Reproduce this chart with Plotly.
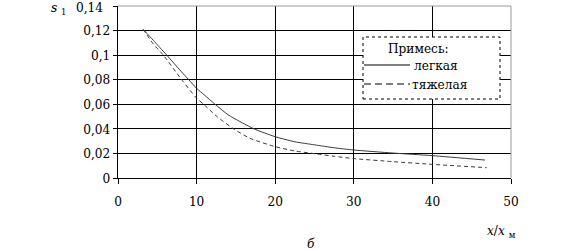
import plotly.graph_objects as go

# ---- data ----
x_light = [3.2, 4.5, 6.2, 8.0, 9.0, 10.0, 11.0, 12.35, 14.0, 15.5, 17.3, 20.0, 22.5, 25.0, 27.5, 30.0, 35.0, 40.0, 46.7]
y_light = [0.121, 0.112, 0.100, 0.087, 0.080, 0.073, 0.0675, 0.060, 0.0515, 0.046, 0.040, 0.0336, 0.0295, 0.027, 0.0246, 0.0228, 0.0203, 0.0182, 0.0146]

x_heavy = [3.2, 4.5, 5.77, 8.1, 10.0, 10.9, 12.5, 14.7, 16.8, 20.0, 22.5, 25.0, 27.5, 30.0, 35.0, 40.0, 46.9]
y_heavy = [0.121, 0.109, 0.100, 0.080, 0.065, 0.060, 0.0505, 0.040, 0.0323, 0.0255, 0.022, 0.0198, 0.0177, 0.0158, 0.0133, 0.0111, 0.0084]

x_ticks = [0, 10, 20, 30, 40, 50]
y_ticks = [0, 0.02, 0.04, 0.06, 0.08, 0.10, 0.12, 0.14]
y_ticktext = ["0", "0,02", "0,04", "0,06", "0,08", "0,1", "0,12", "0,14"]

legend_title = "Примесь:"
name_light = "легкая"
name_heavy = "тяжелая"

# ---- layout geometry (pixels) ----
W, H = 563, 251
L, R, T, B = 118, 52, 6, 73
PW = W - L - R
PH = H - T - B

def px(xp):
    return (xp - L) / PW

def py(yp):
    return (H - B - yp) / PH

FONT = "DejaVu Serif Condensed, DejaVu Serif, serif"
FS = 13.5
LINE_COLOR = "#3a3a3a"

fig = go.Figure()
fig.add_trace(go.Scatter(x=x_light, y=y_light, mode="lines", name=name_light,
                         line=dict(color=LINE_COLOR, width=1, shape="spline", smoothing=0.6)))
fig.add_trace(go.Scatter(x=x_heavy, y=y_heavy, mode="lines", name=name_heavy,
                         line=dict(color=LINE_COLOR, width=1, dash="4px,3px", shape="spline", smoothing=0.6)))

fig.update_layout(
    width=W, height=H,
    margin=dict(l=L, r=R, t=T, b=B),
    paper_bgcolor="white", plot_bgcolor="white",
    showlegend=False,
    font=dict(family=FONT, size=FS, color="black"),
)
fig.update_xaxes(range=[0, 50], tickmode="array", tickvals=x_ticks, showgrid=True, gridcolor="black", gridwidth=1,
                 showline=True, linecolor="black", linewidth=1, zeroline=False,
                 ticks="outside", ticklen=5, tickcolor="black", tickwidth=1, ticklabelstandoff=6,
                 tickfont=dict(family=FONT, size=FS, color="black"))
# the top tick label is drawn as an annotation (plotly hides it at the figure edge)
fig.update_yaxes(range=[0, 0.14], tickmode="array", tickvals=y_ticks,
                 ticktext=y_ticktext[:-1] + [""], showgrid=True,
                 gridcolor="black", gridwidth=1, showline=True, linecolor="black", linewidth=1,
                 zeroline=False, ticks="outside", ticklen=4, tickcolor="black", tickwidth=1,
                 tickfont=dict(family=FONT, size=FS, color="black"), automargin=False)

shapes = [
    dict(type="line", xref="paper", yref="paper", x0=0, x1=1, y0=1, y1=1, line=dict(color="#9a9a9a", width=1), layer="above"),
    dict(type="line", xref="paper", yref="paper", x0=1, x1=1, y0=0, y1=1, line=dict(color="#9a9a9a", width=1), layer="above"),
    dict(type="rect", xref="paper", yref="paper", x0=px(363), x1=px(500), y0=py(99), y1=py(37),
         fillcolor="white", line=dict(color="black", width=1, dash="dot"), layer="above"),
    dict(type="line", xref="paper", yref="paper", x0=px(364), x1=px(410), y0=py(65), y1=py(65),
         line=dict(color="black", width=1), layer="above"),
    dict(type="line", xref="paper", yref="paper", x0=px(364), x1=px(410), y0=py(84), y1=py(84),
         line=dict(color="black", width=1, dash="7px,4px"), layer="above"),
]
fig.update_layout(shapes=shapes)

ann = [
    dict(text=y_ticktext[-1], x=px(105), y=py(7), xanchor="right", yanchor="middle"),
    dict(text=legend_title, x=px(418), y=py(48), xanchor="center", yanchor="middle"),
    dict(text=name_light, x=px(412), y=py(65), xanchor="left", yanchor="middle"),
    dict(text=name_heavy, x=px(410), y=py(84), xanchor="left", yanchor="middle"),
    dict(text="<i>s</i> <sub>1</sub>", x=px(49), y=py(8), xanchor="left", yanchor="middle"),
    dict(text="<i>x</i>/<i>x</i> <sub>м</sub>", x=px(485), y=py(231), xanchor="left", yanchor="middle"),
    dict(text="<i>б</i>", x=px(311), y=py(243), xanchor="center", yanchor="middle"),
]
for a in ann:
    a.update(xref="paper", yref="paper", showarrow=False, font=dict(family=FONT, size=FS, color="black"))
fig.update_layout(annotations=ann)

fig.write_html("out.html")
